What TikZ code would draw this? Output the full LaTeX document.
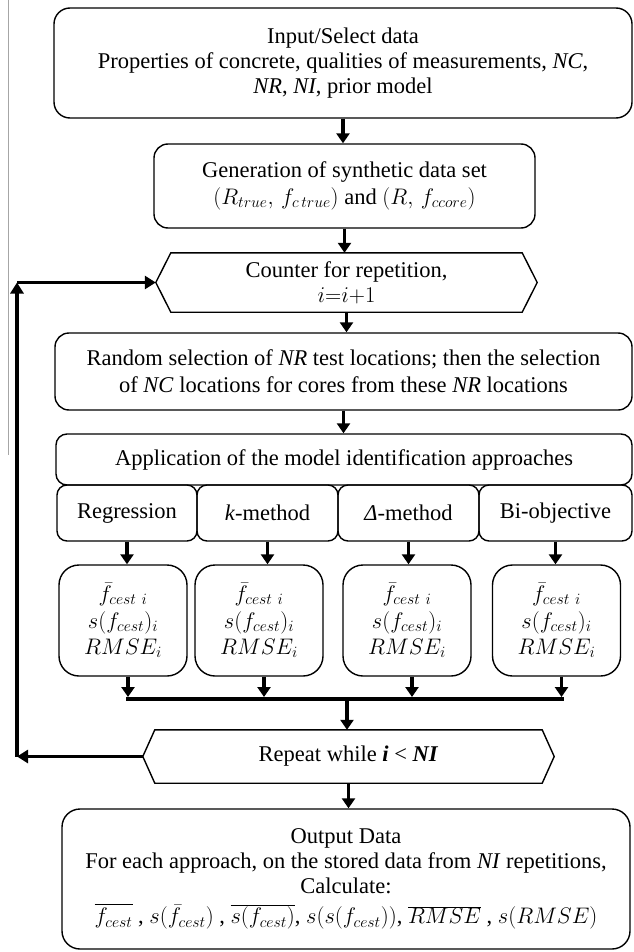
\RequirePackage{fix-cm}
\documentclass[tikz,border=0pt]{standalone}
\usepackage{fontspec}
\setmainfont{Liberation Serif}
\usetikzlibrary{arrows.meta,calc}
\tikzset{
  txt/.style={font=\fontsize{22.5}{25}\selectfont, align=center, inner sep=0pt},
  rbox/.style={txt, draw, line width=1.4pt, rounded corners=#1},
  rbox/.default=14pt,
  hexnode/.style={txt},
  hexline/.style={draw, line width=1.4pt, line join=miter},
  arr/.style={line width=3.4pt, -{Triangle[length=10pt,width=13pt]}},
  feed/.style={line width=3.6pt, -{Triangle[length=11pt,width=13pt]}},
}
\begin{document}
\begin{tikzpicture}[x=1pt,y=-1pt]
\useasboundingbox (0,0) rectangle (633,952);
\fill[white] (0,0) rectangle (633,952);
% thin grey margin line
\draw[gray!70, line width=0.8pt] (8,0) -- (8,455);

\node[rbox=16pt, minimum width=578pt, minimum height=110pt] (in) at (343,63)
  {Input/Select data\\ Properties of concrete, qualities of measurements, \textit{NC},\\ \textit{NR}, \textit{NI}, prior model};

\node[rbox, minimum width=381pt, minimum height=84pt] (gen) at (344.5,186)
  {Generation of synthetic data set\\[2pt] $(R_{true},\, f_{c\,true})$ and $(R,\, f_{ccore})$};

\node[hexnode, minimum width=381pt, minimum height=59pt] (cnt) at (346.5,282.5)
  {Counter for repetition,\\ $i{=}i{+}1$};
\draw[hexline] (cnt.west) -- ($(cnt.north west)+(15,0)$) -- ($(cnt.north east)+(-15,0)$)
  -- (cnt.east) -- ($(cnt.south east)+(-15,0)$) -- ($(cnt.south west)+(15,0)$) -- cycle;

\node[rbox, minimum width=577pt, minimum height=77pt] (rnd) at (343.5,371.5)
  {Random selection of \textit{NR} test locations; then the selection\\[2pt] of \textit{NC} locations for cores from these \textit{NR} locations};

\node[rbox=11pt, minimum width=576pt, minimum height=51pt] (app) at (344,459.5)
  {Application of the model identification approaches};

\node[rbox=10pt, minimum width=140pt, minimum height=56pt] (s1) at (127,513) {Regression};
\node[rbox=10pt, minimum width=141pt, minimum height=56pt] (s2) at (267.5,513) {\textit{k}-method};
\node[rbox=10pt, minimum width=141pt, minimum height=56pt] (s3) at (408.5,513) {\textit{Δ}-method};
\node[rbox=10pt, minimum width=153pt, minimum height=56pt] (s4) at (555.5,513) {Bi-objective};

\foreach \n/\x in {1/123,2/259,3/407,4/556.5}{
  \node[rbox=20pt, minimum width=128pt, minimum height=111pt] (r\n) at (\x,620.5)
    {$\bar f_{cest\ i}$\\[2pt] $s(f_{cest})_i$\\[1pt] $RMSE_i$};
}

\coordinate (bar) at (347,699);

\node[hexnode, minimum width=411pt, minimum height=53pt] (rep) at (348.5,756.5)
  {Repeat while \textbf{\textit{i}} < \textbf{\textit{NI}}};
\draw[hexline] (rep.west) -- ($(rep.north west)+(12,0)$) -- ($(rep.north east)+(-12,0)$)
  -- (rep.east) -- ($(rep.south east)+(-12,0)$) -- ($(rep.south west)+(12,0)$) -- cycle;

\node[rbox=18pt, minimum width=568pt, minimum height=140pt] (out) at (346,879)
  {Output Data\\ For each approach, on the stored data from \textit{NI} repetitions,\\ Calculate:\\[5pt]
   $\overline{\bar f_{cest}}$ , $s(\bar f_{cest})$ , $\overline{s(f_{cest})}$, $s(s(f_{cest}))$, $\overline{RMSE}$ , $s(RMSE)$};

% main flow arrows
\draw[arr] (in.south) -- (in.south |- gen.north);
\draw[arr] (gen.south) -- (gen.south |- cnt.north);
\draw[arr] (cnt.south) -- (cnt.south |- rnd.north);
\draw[arr] (rnd.south) -- (rnd.south |- app.north);
\foreach \n in {1,2,3,4}{
  \draw[arr] (s\n.south) -- (s\n.south |- r\n.north);
  \draw[arr] ($(r\n.south)+(5,0)$) -- ($(r\n.south |- bar)+(5,-2)$);
}
\draw[line width=4.5pt, line cap=rect] ($(r1.south |- bar)+(5,0)$) -- ($(r4.south |- bar)+(5,0)$);
\draw[arr] (bar) -- (bar |- rep.north);
\draw[arr] (rep.south) -- (rep.south |- out.north);

% feedback loop
\coordinate (fb1) at (17,756.5);
\coordinate (fb2) at (17,282.5);
\draw[feed] (rep.west) -- (fb1);
\draw[feed] (fb1) -- (fb2);
\draw[feed] (fb2) -- (cnt.west);
\end{tikzpicture}
\end{document}
